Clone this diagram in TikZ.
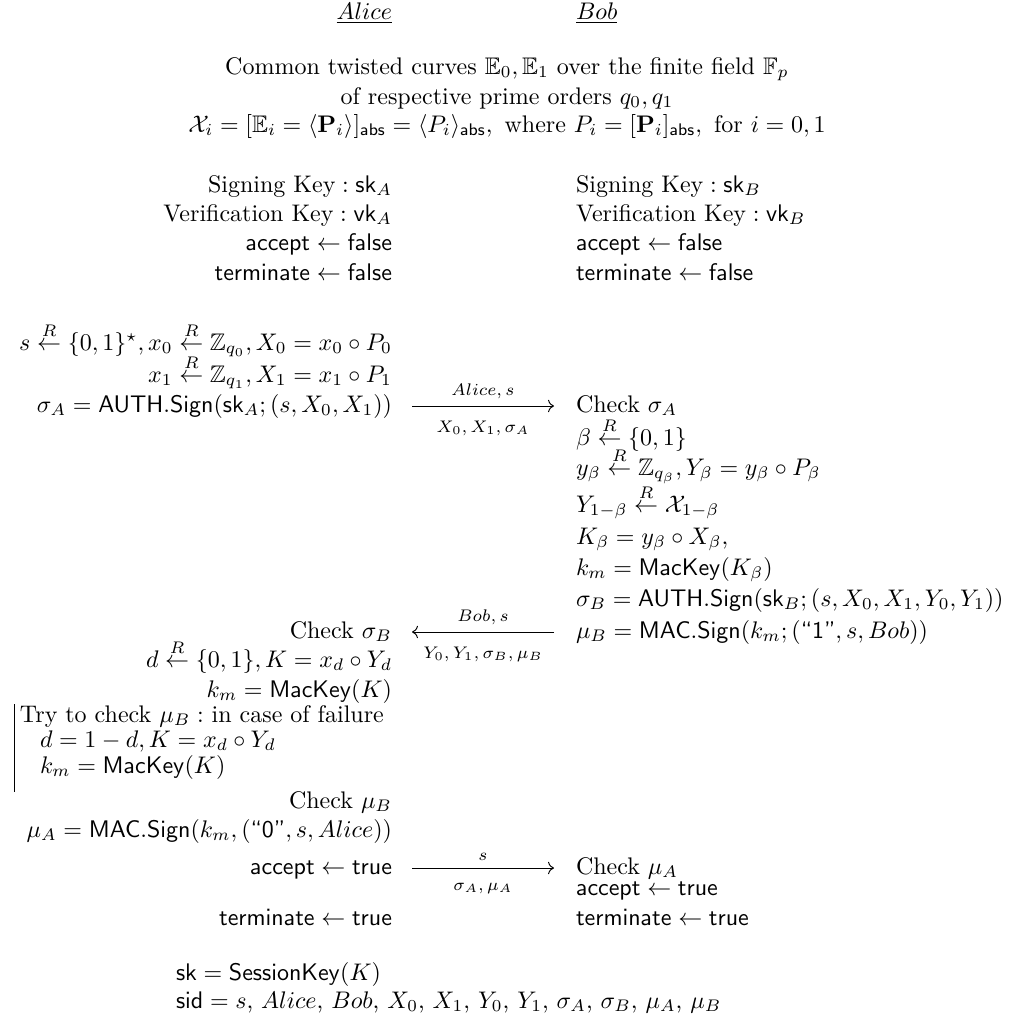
\documentclass[tikz,border=0pt]{standalone}
\usepackage{amsmath,amssymb}
\usetikzlibrary{arrows.meta}
\newcommand{\sampleR}{\stackrel{R}{\leftarrow}}
\newcommand{\qstr}[1]{\text{\textsf{``#1''}}}
\tikzset{
  lcell/.style={anchor=base west, inner sep=0pt, outer sep=0pt},
  rcell/.style={anchor=base east, inner sep=0pt, outer sep=0pt},
  ccell/.style={anchor=base, inner sep=0pt, outer sep=0pt},
  msgarrow/.style={->, line width=0.4pt},
  toplab/.style={midway, above=3pt, inner sep=0pt, font=\scriptsize},
  botlab/.style={midway, below=6pt, inner sep=0pt, font=\scriptsize},
  tryrule/.style={line width=0.4pt}
}
\begin{document}
\begin{tikzpicture}[x=0.41667pt, y=-0.41667pt]
\useasboundingbox (0,0) rectangle (1016,1024);
% headers
\node[rcell] (hA) at (392,19) {$\underline{Alice}$};
\node[lcell] (hB) at (576,19) {$\underline{Bob}$};
% common setup
\node[ccell] (i1) at (507,74) {Common twisted curves $\mathbb{E}_0, \mathbb{E}_1$ over the finite field $\mathbb{F}_p$};
\node[ccell] (i2) at (507,104) {of respective prime orders $q_0, q_1$};
\node[ccell] (i3) at (507,132) {$\mathcal{X}_i = [\mathbb{E}_i = \langle \mathbf{P}_i \rangle]_{\mathsf{abs}} = \langle P_i \rangle_{\mathsf{abs}},\ \text{where}\ P_i = [\mathbf{P}_i]_{\mathsf{abs}},\ \text{for}\ i = 0,1$};
% keys
\node[rcell] (ka1) at (392,192) {$\text{Signing Key} : \mathsf{sk}_A$};
\node[rcell] (ka2) at (392,221) {$\text{Verification Key} : \mathsf{vk}_A$};
\node[rcell] (ka3) at (392,250) {$\mathsf{accept} \leftarrow \mathsf{false}$};
\node[rcell] (ka4) at (392,280) {$\mathsf{terminate} \leftarrow \mathsf{false}$};
\node[lcell] (kb1) at (576,192) {$\text{Signing Key} : \mathsf{sk}_B$};
\node[lcell] (kb2) at (576,221) {$\text{Verification Key} : \mathsf{vk}_B$};
\node[lcell] (kb3) at (576,250) {$\mathsf{accept} \leftarrow \mathsf{false}$};
\node[lcell] (kb4) at (576,280) {$\mathsf{terminate} \leftarrow \mathsf{false}$};
% Alice first flow
\node[rcell] (a1) at (392,350) {$s \sampleR \{0,1\}^\star, x_0 \sampleR \mathbb{Z}_{q_0}, X_0 = x_0 \circ P_0$};
\node[rcell] (a2) at (392,382) {$x_1 \sampleR \mathbb{Z}_{q_1}, X_1 = x_1 \circ P_1$};
\node[rcell] (a3) at (392,412) {$\sigma_A = \mathsf{AUTH.Sign}(\mathsf{sk}_A; (s, X_0, X_1))$};
\coordinate (m1a) at (412,406);
\coordinate (m1b) at (554,406);
\draw[msgarrow] (m1a) -- (m1b)
  node[toplab] (m1t) {$Alice, s$}
  node[botlab] (m1u) {$X_0, X_1, \sigma_A$};
% Bob
\node[lcell] (b1) at (576,412) {Check $\sigma_A$};
\node[lcell] (b2) at (576,445) {$\beta \sampleR \{0,1\}$};
\node[lcell] (b3) at (576,475) {$y_\beta \sampleR \mathbb{Z}_{q_\beta}, Y_\beta = y_\beta \circ P_\beta$};
\node[lcell] (b4) at (576,512) {$Y_{1-\beta} \sampleR \mathcal{X}_{1-\beta}$};
\node[lcell] (b5) at (576,544) {$K_\beta = y_\beta \circ X_\beta,$};
\node[lcell] (b6) at (576,575) {$k_m = \mathsf{MacKey}(K_\beta)$};
\node[lcell] (b7) at (576,606) {$\sigma_B = \mathsf{AUTH.Sign}(\mathsf{sk}_B; (s, X_0, X_1, Y_0, Y_1))$};
\node[lcell] (b8) at (576,638) {$\mu_B = \mathsf{MAC.Sign}(k_m; (\qstr{1}, s, Bob))$};
\coordinate (m2a) at (554,632);
\coordinate (m2b) at (412,632);
\draw[msgarrow] (m2a) -- (m2b)
  node[toplab] (m2t) {$Bob, s$}
  node[botlab] (m2u) {$Y_0, Y_1, \sigma_B, \mu_B$};
% Alice second flow
\node[rcell] (c1) at (392,638) {Check $\sigma_B$};
\node[rcell] (c2) at (392,667) {$d \sampleR \{0,1\}, K = x_d \circ Y_d$};
\node[rcell] (c3) at (392,697) {$k_m = \mathsf{MacKey}(K)$};
\coordinate (bar1) at (14,704);
\coordinate (bar2) at (14,792);
\draw[tryrule] (bar1) -- (bar2);
\node[lcell] (t1) at (20,722) {Try to check $\mu_B :$ in case of failure};
\node[lcell] (t2) at (40,747) {$d = 1 - d, K = x_d \circ Y_d$};
\node[lcell] (t3) at (40,773) {$k_m = \mathsf{MacKey}(K)$};
\node[rcell] (c4) at (392,808) {Check $\mu_B$};
\node[rcell] (c5) at (392,837) {$\mu_A = \mathsf{MAC.Sign}(k_m, (\qstr{0}, s, Alice))$};
\node[rcell] (c6) at (392,874) {$\mathsf{accept} \leftarrow \mathsf{true}$};
\coordinate (m3a) at (412,868);
\coordinate (m3b) at (554,868);
\draw[msgarrow] (m3a) -- (m3b)
  node[toplab] (m3t) {$s$}
  node[botlab] (m3u) {$\sigma_A, \mu_A$};
\node[lcell] (d1) at (576,874) {Check $\mu_A$};
\node[lcell] (d2) at (576,895) {$\mathsf{accept} \leftarrow \mathsf{true}$};
\node[rcell] (c7) at (392,925) {$\mathsf{terminate} \leftarrow \mathsf{true}$};
\node[lcell] (d3) at (576,925) {$\mathsf{terminate} \leftarrow \mathsf{true}$};
% session
\node[lcell] (s1) at (176,980) {$\mathsf{sk} = \mathsf{SessionKey}(K)$};
\node[lcell] (s2) at (176,1008) {$\mathsf{sid} = s$, $Alice$, $Bob$, $X_0$, $X_1$, $Y_0$, $Y_1$, $\sigma_A$, $\sigma_B$, $\mu_A$, $\mu_B$};
\end{tikzpicture}
\end{document}
